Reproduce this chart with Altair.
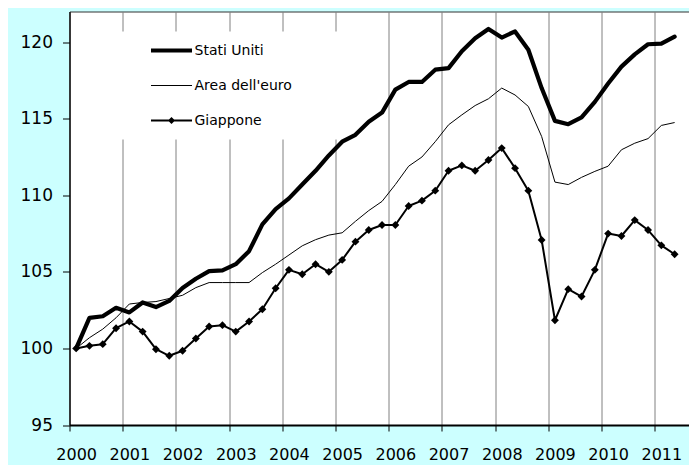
import json
import altair as alt
import pandas as pd

# ---------------- data (quarterly, 2000Q1 = 100) ----------------
quarter_index = list(range(46))  # 2000Q1 ... 2011Q2
year_labels = [str(y) for y in range(2000, 2012)]
series_names = ["Stati Uniti", "Area dell'euro", "Giappone"]

stati_uniti = [100.0, 102.0, 102.1, 102.65, 102.35, 103.0, 102.7, 103.1,
               103.95, 104.55, 105.05, 105.1, 105.5, 106.35, 108.1, 109.1,
               109.8, 110.7, 111.6, 112.6, 113.5, 113.95, 114.8, 115.4,
               116.9, 117.4, 117.4, 118.2, 118.3, 119.4, 120.25, 120.86,
               120.3, 120.7, 119.5, 117.0, 114.86, 114.64, 115.08, 116.1,
               117.3, 118.4, 119.2, 119.86, 119.9, 120.36]

area_euro = [100.0, 100.7, 101.26, 102.0, 102.9, 103.0, 103.06, 103.26,
             103.47, 103.97, 104.3, 104.3, 104.3, 104.3, 104.95, 105.5,
             106.1, 106.7, 107.1, 107.4, 107.55, 108.3, 109.0, 109.6,
             110.7, 111.9, 112.5, 113.5, 114.6, 115.25, 115.86, 116.3,
             117.0, 116.55, 115.8, 113.84, 110.86, 110.7, 111.17, 111.56,
             111.9, 112.97, 113.4, 113.7, 114.56, 114.75]

giappone = [100.0, 100.17, 100.28, 101.32, 101.76, 101.1, 99.95, 99.52,
            99.85, 100.65, 101.43, 101.52, 101.1, 101.76, 102.56, 103.93,
            105.13, 104.84, 105.5, 105.0, 105.78, 106.97, 107.73, 108.06,
            108.06, 109.3, 109.65, 110.3, 111.6, 111.95, 111.6, 112.3,
            113.08, 111.77, 110.3, 107.08, 101.84, 103.87, 103.39, 105.13,
            107.5, 107.34, 108.38, 107.73, 106.73, 106.15]

y_ticks = [95, 100, 105, 110, 115, 120]

rows = []
for name, vals in zip(series_names, [stati_uniti, area_euro, giappone]):
    for q, v in zip(quarter_index, vals):
        rows.append({"q": q, "value": v, "series": name})
df = pd.DataFrame(rows)

FONT = "DejaVu Sans"

# year boundaries (ticks + grid); labels shifted to first quarter of each year
tick_values = [-0.5 + 4 * i for i in range(len(year_labels))]
label_expr = json.dumps(year_labels) + "[round((datum.value + 0.5) / 4)]"

x_enc = alt.X(
    "q:Q",
    scale=alt.Scale(domain=[-0.5, 46.08], nice=False, zero=False),
    axis=alt.Axis(
        values=tick_values, labelExpr=label_expr, labelOffset=6.65,
        labelFlush=False, labelOverlap=False, labelAngle=0,
        grid=True, gridColor="#808080", gridWidth=1,
        tickSize=6, tickColor="black", tickWidth=1,
        domainColor="black", domainWidth=2,
        labelFont=FONT, labelFontSize=16, labelColor="black", labelPadding=15,
        title=None,
    ),
)
y_enc = alt.Y(
    "value:Q",
    scale=alt.Scale(domain=[95, 122], nice=False, zero=False),
    axis=alt.Axis(
        values=y_ticks, grid=False,
        tickSize=7, tickColor="black", tickWidth=1,
        domainColor="black", domainWidth=1.2,
        labelFont=FONT, labelFontSize=17, labelColor="black", labelPadding=10,
        title=None,
    ),
)

base = alt.Chart(df)

def only(name):
    return alt.FieldEqualPredicate(field="series", equal=name)

euro_line = base.transform_filter(only("Area dell'euro")).mark_line(
    color="black", strokeWidth=1, strokeJoin="round"
).encode(x=x_enc, y=y_enc)

jp_line = base.transform_filter(only("Giappone")).mark_line(
    color="black", strokeWidth=2, strokeJoin="round"
).encode(x=x_enc, y=y_enc)

jp_pts = base.transform_filter(only("Giappone")).mark_point(
    shape="diamond", filled=True, size=62, color="black", opacity=1
).encode(x=x_enc, y=y_enc)

us_line = base.transform_filter(only("Stati Uniti")).mark_line(
    color="black", strokeWidth=4.2, strokeJoin="round", strokeCap="round"
).encode(x=x_enc, y=y_enc)

# legend symbols drawn as filled bars (1 unit = 4.5 px for symbolSize 81);
# the lone moveTo's only widen the white legend box.
def bar(half_h):
    return "M-4.556,{a}H4.556V{b}H-4.556Z".format(a=-half_h, b=half_h)

pad_moves = "M-13.6,0M34.5,0"
symbol_paths = [
    pad_moves + bar(0.467),
    pad_moves + bar(0.111),
    pad_moves + bar(0.222) + "M0,-0.8L0.8,0L0,0.8L-0.8,0Z",
]

leg = alt.Legend(
    title=None, orient="none", legendX=28.5, legendY=20,
    fillColor="white", padding=12, rowPadding=21,
    labelFont=FONT, labelFontSize=14, labelColor="black",
    symbolSize=81, symbolOffset=54.5, labelOffset=16,
    symbolStrokeWidth=0, symbolFillColor="black", symbolOpacity=1,
)

legend_layer = base.mark_point(
    filled=True, opacity=0, fill="black", strokeWidth=0
).encode(
    x=x_enc, y=y_enc,
    shape=alt.Shape("series:N", scale=alt.Scale(domain=series_names, range=symbol_paths), legend=leg),
)

chart = alt.layer(euro_line, jp_line, jp_pts, us_line, legend_layer).properties(
    width=619.5, height=413.5,
    autosize=alt.AutoSizeParams(type="none"),
    padding={"left": 61.5, "top": 3.5, "right": 0, "bottom": 40},
    background="#ccffff",
).configure_view(fill="white", stroke="#333333", strokeWidth=1)

chart.save("out.html", embed_options={"renderer": "svg", "actions": False})
